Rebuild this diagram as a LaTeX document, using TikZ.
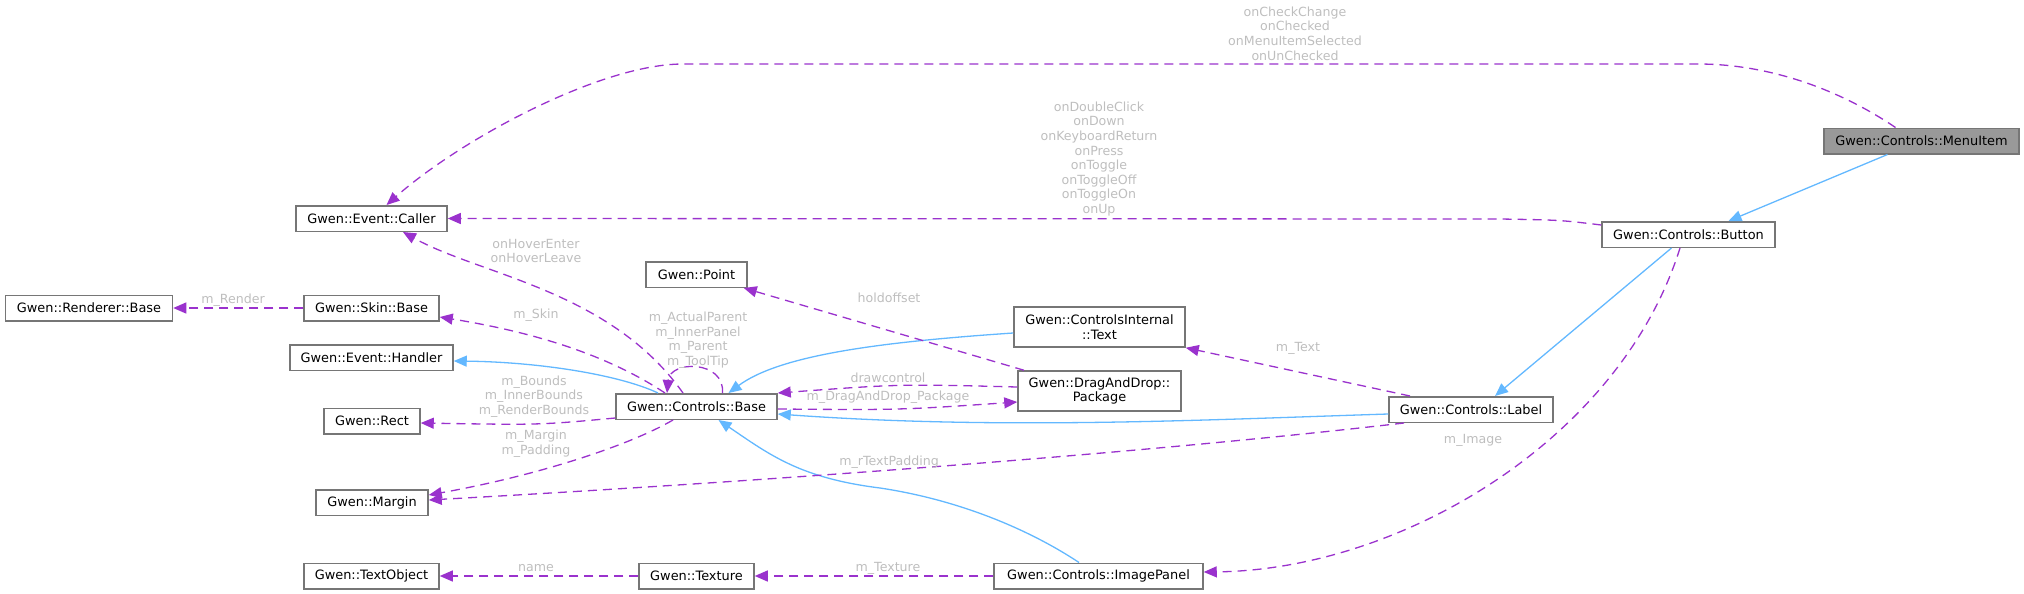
\documentclass[tikz,border=0pt]{standalone}
\usepackage{fontspec}
\setmainfont{DejaVu Sans}
\usepackage{tikz}
\usetikzlibrary{arrows.meta}
\definecolor{edgepurple}{HTML}{9A32CD}
\definecolor{edgeblue}{HTML}{63B8FF}
\definecolor{boxline}{HTML}{767676}
\definecolor{lblgrey}{HTML}{BEBEBE}
\definecolor{curfill}{HTML}{999999}

\begin{document}
\begin{tikzpicture}[
  x=1pt, y=-1pt,
  cls/.style={draw=boxline, line width=1.5pt, fill=white, align=center, inner xsep=4pt, inner ysep=4pt, minimum height=25.5pt, font=\fontsize{12.9}{14.6}\selectfont},
  cur/.style={cls, fill=curfill},
  lbl/.style={text=lblgrey, align=center, inner sep=0pt, font=\fontsize{12.6}{14.6}\selectfont},
  inh/.style={-{Triangle[length=13pt,width=11pt]}, edgeblue, line width=1.3pt},
  use/.style={-{Triangle[length=13pt,width=11pt]}, edgepurple, line width=1.3pt, dash pattern=on 9pt off 6pt}
]
\useasboundingbox (0,0) rectangle (2024,594);
% classes
\node[cur, minimum width=195pt] (menuitem) at (1921.5,141) {Gwen::Controls::MenuItem};
\node[cls, minimum width=173pt] (button) at (1688.5,234.5) {Gwen::Controls::Button};
\node[cls, minimum width=151pt] (caller) at (371.5,218.5) {Gwen::Event::Caller};
\node[cls, minimum width=167pt] (renderer) at (89,308) {Gwen::Renderer::Base};
\node[cls, minimum width=135pt] (skin) at (371.5,308) {Gwen::Skin::Base};
\node[cls, minimum width=163pt] (handler) at (371.5,357.5) {Gwen::Event::Handler};
\node[cls, minimum width=96pt] (rect) at (372,421) {Gwen::Rect};
\node[cls, minimum width=112pt] (margin) at (372,502.5) {Gwen::Margin};
\node[cls, minimum width=135pt] (textobj) at (371.5,576) {Gwen::TextObject};
\node[cls, minimum width=101pt] (point) at (696.5,274.5) {Gwen::Point};
\node[cls, minimum width=161pt] (base) at (696.5,406.5) {Gwen::Controls::Base};
\node[cls, minimum width=115pt] (texture) at (696.5,576) {Gwen::Texture};
\node[cls, minimum width=171pt, minimum height=40pt] (itext) at (1099.5,327) {Gwen::ControlsInternal\\::Text};
\node[cls, minimum width=163pt, minimum height=40pt] (package) at (1099.5,391) {Gwen::DragAndDrop::\\Package};
\node[cls, minimum width=164pt] (label) at (1471,409.5) {Gwen::Controls::Label};
\node[cls, minimum width=209pt] (imagepanel) at (1098.5,576) {Gwen::Controls::ImagePanel};

% inheritance
\draw[inh] ([xshift=-34pt]menuitem.south) -- ([xshift=40pt]button.north);
\draw[inh] ([xshift=-17pt]button.south) -- ([xshift=24pt]label.north);
\draw[inh] ([yshift=-4.5pt]label.west) .. controls (1200,420) and (1000,430) .. ([yshift=-7.5pt]base.east);
\draw[inh] ([yshift=-6pt]itext.west) .. controls (880,342) and (780,355) .. ([xshift=32pt]base.north);
\draw[inh] ([xshift=-19.5pt]imagepanel.north) .. controls (1030,530) and (960,500) .. (880,488)
  .. controls (800,478) and (770,455) .. ([xshift=22pt]base.south);
\draw[inh] ([xshift=-38.5pt]base.north) .. controls (620,375) and (540,362) .. ([yshift=-3.5pt]handler.east);

% members
\draw[use] ([xshift=-26pt]menuitem.north) .. controls (1840,90) and (1770,64) .. (1698,64) -- (683,64)
  .. controls (600,64) and (460,140) .. ([xshift=15pt]caller.north);
\draw[use] ([yshift=9.5pt]button.west) .. controls (1560,220) .. (1500,219) -- (caller.east);
\draw[use] ([xshift=-8.5pt]button.south) .. controls (1620,440) and (1400,570) .. ([yshift=4pt]imagepanel.east);
\draw[use] ([xshift=-61pt]label.north) -- (itext.south east);
\draw[use] ([xshift=-67pt]label.south) .. controls (1100,458) and (700,485) .. ([yshift=2.5pt]margin.east);
\draw[use] ([yshift=4pt]package.west) .. controls (900,384) .. (base.north east);
\draw[use] ([yshift=-2.5pt]base.east) .. controls (900,410) .. ([yshift=-11pt]package.west);
\draw[use] ([xshift=-75.5pt]package.north) -- ([xshift=-4pt]point.south east);
\foreach \a/\b in {imagepanel/texture, texture/textobj, skin/renderer}{\draw[use] (\a.west) -- (\b.east);}
\draw[use] ([xshift=-13.5pt]base.north) .. controls (610,290) and (480,275) .. ([xshift=31.5pt]caller.south);
\draw[use] ([xshift=-31.5pt]base.north) .. controls (600,350) and (520,330) .. ([yshift=-9pt]skin.east);
\draw[use] ([yshift=-11.5pt]base.west) .. controls (540,425) .. ([yshift=-2pt]rect.east);
\draw[use] ([xshift=-23.5pt]base.south) .. controls (630,445) and (540,475) .. ([yshift=7.5pt]margin.east);
% self loop
\draw[use] ([xshift=26pt]base.north) .. controls (725,360) and (670,360) .. ([xshift=-29.5pt]base.north);

% edge labels
\node[lbl] (lCheck) at (1295,33.5) {onCheckChange\\onChecked\\onMenuItemSelected\\onUnChecked};
\node[lbl] (lPress) at (1099,159) {onDoubleClick\\onDown\\onKeyboardReturn\\onPress\\onToggle\\onToggleOff\\onToggleOn\\onUp};
\node[lbl] (lHover) at (536,251) {onHoverEnter\\onHoverLeave};
\node[lbl] (lRender) at (233,300) {m\_Render};
\node[lbl] (lSkin) at (536,315) {m\_Skin};
\node[lbl] (lBounds) at (534,396.5) {m\_Bounds\\m\_InnerBounds\\m\_RenderBounds};
\node[lbl] (lMargin) at (536,443.5) {m\_Margin\\m\_Padding};
\node[lbl] (lParent) at (698,340) {m\_ActualParent\\m\_InnerPanel\\m\_Parent\\m\_ToolTip};
\node[lbl] (lHold) at (889,298) {holdoffset};
\node[lbl] (lDraw) at (888,378) {drawcontrol};
\node[lbl] (lPackage) at (888,397) {m\_DragAndDrop\_Package};
\node[lbl] (lPadding) at (889,462) {m\_rTextPadding};
\node[lbl] (lText) at (1298,348) {m\_Text};
\node[lbl] (lImage) at (1473,440) {m\_Image};
\node[lbl] (lTexture) at (888,568) {m\_Texture};
\node[lbl] (lName) at (536,568) {name};
\end{tikzpicture}
\end{document}
